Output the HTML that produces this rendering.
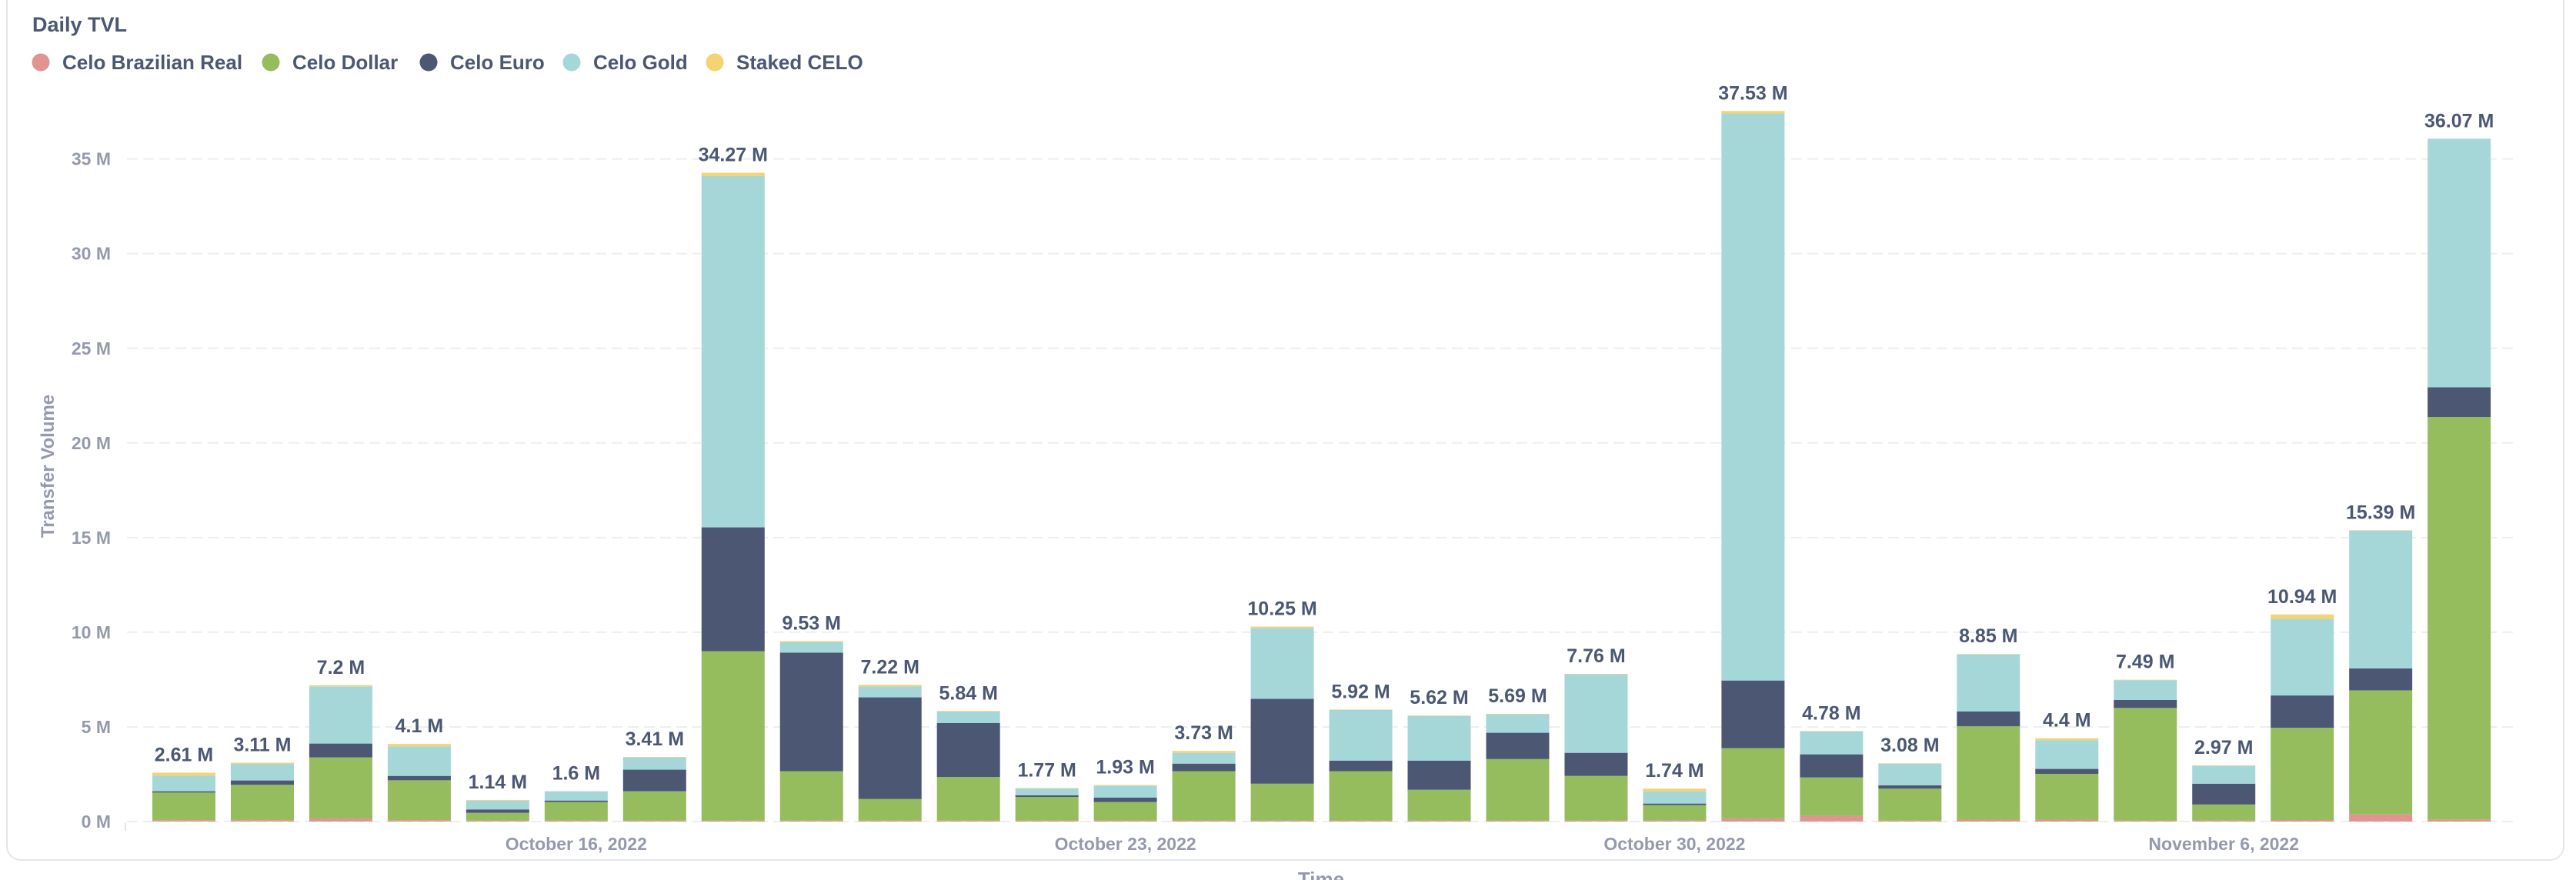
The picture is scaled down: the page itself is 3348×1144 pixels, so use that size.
<!DOCTYPE html>
<html><head><meta charset="utf-8"><style>
html,body{margin:0;padding:0;background:#fff;width:3348px;height:1144px;overflow:hidden}
svg{display:block;font-family:"Liberation Sans",sans-serif}
</style></head><body>
<svg id="chart" width="3348" height="1144" xmlns="http://www.w3.org/2000/svg">
<rect x="9" y="-20" width="3323" height="1138" rx="18" fill="#fff" stroke="#e4e6ea" stroke-width="2"/>
<text x="42" y="41" font-size="27" font-weight="bold" fill="#4c5773">Daily TVL</text>
<g id="legend"></g>
<g id="grid"></g>
<g id="bars"></g>
<g id="labels"></g>
<g id="xaxis"></g>
<text transform="translate(70,606) rotate(-90)" text-anchor="middle" font-size="24" font-weight="bold" fill="#949aab">Transfer Volume</text>
<text x="1717" y="1152" text-anchor="middle" font-size="26" font-weight="bold" fill="#949aab">Time</text>
</svg>
<script>
const seriesNames = ["Celo Brazilian Real","Celo Dollar","Celo Euro","Celo Gold","Staked CELO"];
const seriesColors = ["#e39391","#95bd5e","#4c5773","#a6d7d8","#f4d370"];
const real   = [0.07,0.07,0.16,0.07,0.05,0.05,0.05,0.05,0.05,0.05,0.05,0.05,0.05,0.05,0.05,0.05,0.05,0.05,0.05,0.05,0.16,0.30,0.05,0.10,0.10,0.05,0.05,0.08,0.38,0.11];
const dollar = [1.46,1.87,3.23,2.11,0.41,0.98,1.55,8.95,2.61,1.14,2.30,1.25,0.98,2.61,1.95,2.61,1.63,3.25,2.36,0.82,3.72,2.03,1.69,4.93,2.42,5.95,0.85,4.87,6.55,21.26];
const euro   = [0.07,0.23,0.73,0.23,0.18,0.08,1.14,6.54,6.26,5.37,2.86,0.09,0.24,0.40,4.48,0.56,1.54,1.39,1.22,0.08,3.57,1.22,0.17,0.79,0.26,0.42,1.10,1.71,1.16,1.57];
const gold   = [0.83,0.89,3.02,1.56,0.47,0.49,0.65,18.56,0.57,0.58,0.60,0.36,0.63,0.57,3.75,2.68,2.36,0.98,4.15,0.65,29.95,1.22,1.15,3.01,1.52,1.05,0.95,4.05,7.28,13.13];
const staked = [0.15,0.05,0.06,0.13,0.03,0.00,0.02,0.17,0.04,0.08,0.03,0.02,0.03,0.10,0.07,0.02,0.02,0.02,0.02,0.14,0.13,0.01,0.02,0.02,0.10,0.02,0.02,0.23,0.02,0.00];
const totalLabels = ["2.61 M","3.11 M","7.2 M","4.1 M","1.14 M","1.6 M","3.41 M","34.27 M","9.53 M","7.22 M","5.84 M","1.77 M","1.93 M","3.73 M","10.25 M","5.92 M","5.62 M","5.69 M","7.76 M","1.74 M","37.53 M","4.78 M","3.08 M","8.85 M","4.4 M","7.49 M","2.97 M","10.94 M","15.39 M","36.07 M"];
const yTicks = [0,5,10,15,20,25,30,35];
const yTickLabels = ["0 M","5 M","10 M","15 M","20 M","25 M","30 M","35 M"];
const xTickIndex = [5,12,19,26];
const xTickLabels = ["October 16, 2022","October 23, 2022","October 30, 2022","November 6, 2022"];

const NS="http://www.w3.org/2000/svg";
const y0=1068, pxPerM=24.61, x0=239, step=101.97, bw=82;
function yScale(v){return y0 - v*pxPerM;}
function xScale(i){return x0 + i*step;}
function mk(tag,parent){const e=document.createElementNS(NS,tag);document.getElementById(parent).appendChild(e);return e;}

// legend
const legX=[53,352,557,743,929];
seriesNames.forEach((n,i)=>{
  const c=mk('circle','legend');
  
  
  c.setAttribute('cx',legX[i]);c.setAttribute('cy',81);c.setAttribute('r',11.5);c.setAttribute('fill',seriesColors[i]);
  const t=mk('text','legend');
  
  
  t.setAttribute('x',legX[i]+28);t.setAttribute('y',90);t.setAttribute('font-size','26');t.setAttribute('font-weight','bold');t.setAttribute('fill','#4c5773');
  t.textContent=n;
});
// grid
yTicks.forEach((v,i)=>{
  const l=mk('line','grid');
  
  
  l.setAttribute('x1',165);l.setAttribute('x2',3272);l.setAttribute('y1',yScale(v));l.setAttribute('y2',yScale(v));
  l.setAttribute('stroke','#eceef1');l.setAttribute('stroke-width','2');l.setAttribute('stroke-dasharray','14 7');
  const t=mk('text','grid');
  
  
  t.setAttribute('x',144);t.setAttribute('y',yScale(v)+8);t.setAttribute('text-anchor','end');t.setAttribute('font-size','23');t.setAttribute('font-weight','bold');t.setAttribute('fill','#949aab');
  t.textContent=yTickLabels[i];
});
const tk=mk('line','grid');


tk.setAttribute('x1',163);tk.setAttribute('x2',163);tk.setAttribute('y1',1069);tk.setAttribute('y2',1080);tk.setAttribute('stroke','#e4e6ea');tk.setAttribute('stroke-width','2');
// bars
const series=[real,dollar,euro,gold,staked];
totalLabels.forEach((lab,i)=>{
  let acc=0;
  series.forEach((s,k)=>{
    const v=s[i]; if(v<=0) return;
    const r=mk('rect','bars');
    
    
    r.setAttribute('x',xScale(i)-bw/2);r.setAttribute('width',bw);
    r.setAttribute('y',yScale(acc+v));r.setAttribute('height',v*pxPerM);
    r.setAttribute('fill',seriesColors[k]);
    acc+=v;
  });
  const t=mk('text','labels');
  
  
  t.setAttribute('x',xScale(i));t.setAttribute('y',yScale(acc)-15);t.setAttribute('text-anchor','middle');t.setAttribute('font-size','25');t.setAttribute('font-weight','bold');t.setAttribute('fill','#4c5773');
  t.textContent=lab;
});
// x axis
xTickIndex.forEach((idx,i)=>{
  const t=mk('text','xaxis');
  
  
  t.setAttribute('x',xScale(idx));t.setAttribute('y',1105);t.setAttribute('text-anchor','middle');t.setAttribute('font-size','23');t.setAttribute('font-weight','bold');t.setAttribute('fill','#949aab');
  t.textContent=xTickLabels[i];
});
</script>
</body></html>
